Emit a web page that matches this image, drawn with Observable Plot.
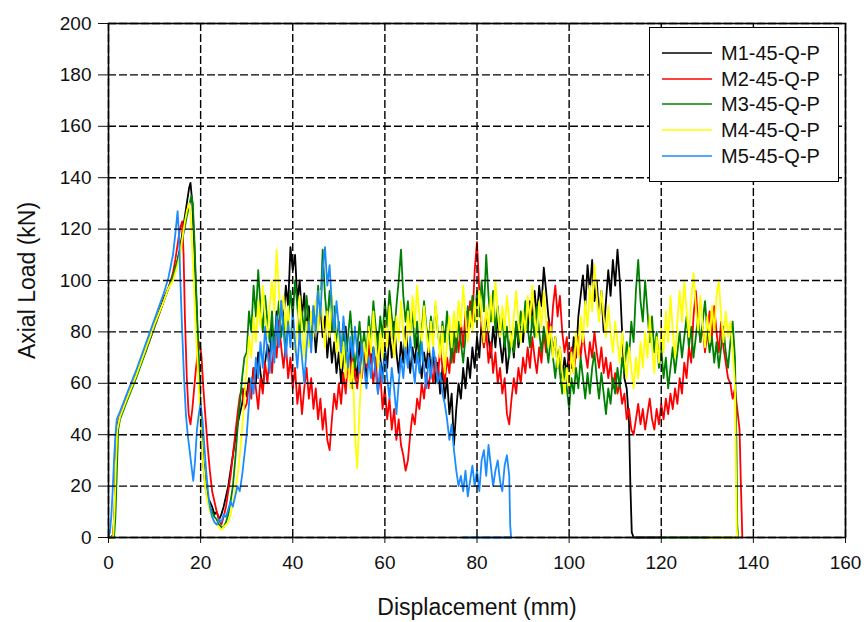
<!DOCTYPE html>
<html>
<head>
<meta charset="utf-8">
<script src="https://cdn.jsdelivr.net/npm/d3@7"></script>
<script src="https://cdn.jsdelivr.net/npm/@observablehq/plot@0.6"></script>
<style>
  html, body { margin: 0; padding: 0; background: #fff; overflow: hidden; }
  #wrap { position: relative; width: 864px; height: 622px; font-family: "Liberation Sans", Arial, sans-serif; }
  #legend { position: absolute; left: 649px; top: 27px; width: 188px; height: 153px; border: 1.5px solid #000; background: #fff; box-sizing: content-box; }
  .row { position: absolute; left: 0; height: 22px; width: 188px; }
  .row svg { position: absolute; left: 12px; top: 0; }
  .row span { position: absolute; left: 71px; top: 0; font-size: 20px; line-height: 22px; color: #111; }
</style>
</head>
<body>
<div id="wrap"><div id="legend"></div></div>
<script>
const xTicks = [0, 20, 40, 60, 80, 100, 120, 140, 160];
const yTicks = [0, 20, 40, 60, 80, 100, 120, 140, 160, 180, 200];
const seriesNames = ["M1-45-Q-P", "M2-45-Q-P", "M3-45-Q-P", "M4-45-Q-P", "M5-45-Q-P"];
const seriesColors = ["#000000", "#ff0000", "#008000", "#ffff00", "#1a8cff"];

// Body arrays: loads sampled every 0.5 mm starting at 30 mm
const bodyStart = 30, bodyStep = 0.5;

// ---- M1 ----
const m1Head = [[0,0],[0.5,0],[1,1],[1.3,10],[1.6,30],[1.9,44],[2.5,47],[4,54],[6,63],[8,73],[10,83],[12,93],[13,97],[14,101],[15,108],[15.5,112],[16,118],[16.5,124],[17,130],[17.5,136],[17.8,138],[18.2,130],[18.6,115],[19,95],[19.5,70],[20,48],[20.5,32],[21,22],[21.5,16],[22,14],[22.5,12],[23,9],[23.5,10],[24,7],[24.5,9],[25,12],[25.5,16],[26,20],[26.5,26],[27,32],[27.5,38],[28,44],[28.5,48],[29,52],[29.5,58]];
const m1Body = [55,62,58,66,60,72,64,58,68,75, 70,82,74,88,80,92,85,98,90,113, 104,110,92,100,86,95,80,90,76,85, 72,82,90,78,86,70,80,68,76,64, 72,60,70,82,66,74,58,68,62,76, 66,72,62,78,68,74,64,80,70,62, 74,66,80,70,84,72,64,76,68,82, 72,64,74,68,78,70,62,72,66,76, 64,72,60,68,56,66,54,62,48,56, 36,50,60,54,66,58,70,62,74,66, 78,70,84,74,88,78,70,82,74,86, 76,68,78,64,72,80,70,84,74,82, 76,88,80,92,84,96,86,98,90,105, 96,86,80,72,78,66,74,62,70,64, 72,66,78,70,86,94,102,90,106,96, 108,92,100,86,96,80,92,104,94,108, 98,112,100,80,62];
const m1Tail = [[112.5,58],[113,45],[113.3,20],[113.6,2],[114,0],[120,0]];

// ---- M2 ----
const m2Head = [[0,0],[1,0],[1.4,10],[1.7,30],[2,44],[2.5,47],[4,54],[6,63],[8,72],[10,82],[12,92],[13,97],[14,103],[14.5,108],[15,114],[15.5,120],[16,123],[16.3,110],[16.6,85],[17,62],[17.4,48],[17.8,44],[18.2,50],[18.6,58],[19,66],[19.4,72],[19.8,76],[20.2,70],[20.6,58],[21,48],[21.5,36],[22,26],[22.5,18],[23,14],[23.5,10],[24,7],[24.5,5],[25,8],[25.5,12],[26,18],[26.5,24],[27,32],[27.5,40],[28,48],[28.5,55],[29,58],[29.5,50]];
const m2Body = [52,60,54,66,58,50,62,56,68,60, 72,64,78,70,84,74,66,76,62,70, 58,66,52,60,48,58,66,54,62,50, 58,46,54,42,50,38,34,46,56,50, 60,52,64,56,70,60,74,64,58,68, 62,74,66,78,68,60,70,56,64,50, 58,46,54,42,50,38,46,36,32,26, 30,40,48,44,54,50,60,54,64,58, 66,60,70,62,74,66,60,70,64,76, 68,80,72,84,74,88,78,92,84,104, 115,96,84,74,80,68,76,64,72,60, 66,56,62,48,44,54,62,56,66,60, 70,64,74,66,78,70,64,74,68,80, 72,84,76,90,98,86,94,80,72,78, 66,74,64,72,78,70,80,72,66,76, 70,80,72,66,74,64,70,62,68,58, 64,56,60,52,56,46,50,42,40,46, 52,44,50,42,48,54,46,42,50,44, 52,46,54,48,56,50,58,52,62,56, 68,62,74,68,86,96,84,76,82,72, 80,88,78,90,80,72,84,74,68,62, 60,54,58,50,42];
const m2Tail = [[137.3,20],[137.6,0]];

// ---- M3 ----
const m3Head = [[0,0],[1.2,0],[1.5,8],[1.8,25],[2.1,42],[2.5,46],[4,53],[6,62],[8,72],[10,82],[12,92],[13,97],[14,102],[15,108],[15.5,112],[16,116],[16.5,120],[17,125],[17.5,129],[18,133],[18.3,130],[18.6,118],[19,98],[19.5,74],[20,50],[20.5,30],[21,20],[21.5,15],[22,12],[22.5,10],[23,8],[23.5,7],[24,5],[24.5,4],[25,4],[25.5,6],[26,9],[26.5,14],[27,20],[27.5,30],[28,42],[28.5,52],[29,62],[29.5,70]];
const m3Body = [72,88,80,98,86,104,90,80,94,84, 76,88,70,82,92,78,86,72,84,96, 86,100,90,78,88,80,94,84,76,90, 82,98,88,112,94,84,96,80,90,74, 84,70,80,68,78,88,76,66,74,84, 72,80,70,86,76,92,82,74,86,78, 92,82,96,86,78,90,100,112,94,84, 92,80,88,74,84,70,80,92,82,76, 86,78,90,80,72,84,76,88,78,68, 80,72,84,76,68,78,90,82,94,84, 96,86,100,88,110,94,84,96,80,90, 78,86,74,82,70,80,72,84,76,88, 80,92,82,74,86,78,90,80,72,82, 76,68,78,70,62,72,64,56,66,58, 50,62,56,66,58,70,62,54,64,56, 66,72,62,54,64,56,48,58,52,62, 56,66,58,70,64,76,70,84,76,96, 108,92,84,100,88,76,86,72,80,66, 74,62,70,58,66,74,64,72,80,70, 78,86,74,82,70,78,86,76,84,92, 80,72,78,68,76,66,74,82,72,66, 76,84,70];
const m3Tail = [[136.3,40],[136.5,5],[136.7,0],[120,0]];

// ---- M4 ----
const m4Head = [[0,0],[1,0],[1.3,10],[1.6,28],[1.9,42],[2.5,47],[4,54],[6,63],[8,73],[10,83],[12,92],[13,97],[14,100],[15,106],[15.5,110],[16,116],[16.5,122],[17,127],[17.5,130],[17.8,126],[18.2,112],[18.6,96],[19,80],[19.5,62],[20,44],[20.5,30],[21,20],[21.5,14],[22,10],[22.5,8],[23,6],[23.5,5],[24,4],[24.5,3],[25,4],[25.5,5],[26,6],[26.5,9],[27,13],[27.5,18],[28,24],[28.5,32],[29,42],[29.5,54]];
const m4Body = [66,78,70,86,76,92,82,98,86,78, 90,100,88,112,96,84,94,80,90,76, 86,72,82,94,80,70,84,74,88,78, 92,80,96,84,74,88,78,94,82,72, 80,66,76,62,72,58,68,40,27,50, 66,76,68,82,72,88,76,66,80,70, 84,74,90,78,70,86,76,92,80,72, 88,78,94,82,98,86,76,90,80,72, 84,74,92,80,70,82,64,76,86,74, 88,78,92,82,98,86,76,88,80,92, 82,96,86,76,90,80,94,84,100,88, 78,90,80,94,84,74,86,96,84,76, 88,80,94,84,98,86,78,92,82,96, 84,74,82,70,78,66,74,64,56,66, 58,72,64,80,70,86,76,92,82,98, 88,106,94,84,96,86,78,90,80,72, 84,76,68,80,70,62,74,66,58,70, 62,76,66,80,70,86,74,64,78,68, 82,72,88,76,94,80,70,84,96,84, 100,88,78,92,103,90,80,94,82,74, 86,76,90,80,94,100,86,76,88,78, 84,72,60];
const m4Tail = [[136.2,30],[136.4,3],[136.6,0],[130,0]];

// ---- M5 ----
const m5Head = [[0,0],[0.3,2],[0.6,8],[0.9,18],[1.2,30],[1.5,40],[1.8,46],[2.5,49],[4,56],[6,65],[8,75],[10,85],[12,95],[13,101],[14,110],[14.5,118],[15,127],[15.3,118],[15.6,100],[16,80],[16.4,62],[16.8,48],[17.2,40],[17.6,34],[18,28],[18.4,22],[18.8,30],[19.2,42],[19.6,48],[20,52],[20.4,46],[20.8,36],[21.2,26],[21.6,18],[22,12],[22.5,8],[23,6],[23.5,5],[24,7],[24.5,6],[25,9],[25.5,8],[26,11],[26.5,14],[27,12],[27.5,16],[28,20],[28.5,18],[29,24],[29.5,32]];
const m5Body = [40,52,62,56,70,62,76,66,82,72, 64,78,68,86,74,92,80,70,84,74, 88,76,66,80,70,60,74,84,72,90, 80,96,86,104,113,98,106,90,80,92, 82,72,86,76,66,78,70,82,72,64, 76,66,58,70,62,74,64,56,68,60, 72,62,54,66,58,48,60,70,62,74, 66,78,68,60,72,64,76,66,58,70, 62,74,68,60,64,56,52,46,38,44, 34,26,20];
const m5Tail = [[76.5,24],[77,18],[77.5,26],[78,16],[78.5,22],[79,28],[79.5,20],[80,26],[80.5,18],[81,30],[81.5,34],[82,24],[82.5,36],[83,28],[83.5,20],[84,26],[84.5,30],[85,22],[85.5,18],[86,28],[86.5,32],[87,24],[87.2,5],[87.4,0],[77,0]];

function build(head, body, tail) {
  const pts = head.map(([x, y]) => ({x, y}));
  body.forEach((y, i) => pts.push({x: bodyStart + i * bodyStep, y}));
  tail.forEach(([x, y]) => pts.push({x, y}));
  return pts;
}
const series = [
  build(m1Head, m1Body, m1Tail),
  build(m2Head, m2Body, m2Tail),
  build(m3Head, m3Body, m3Tail),
  build(m4Head, m4Body, m4Tail),
  build(m5Head, m5Body, m5Tail)
];

const chart = Plot.plot({
  width: 864, height: 622,
  marginLeft: 108, marginRight: 19, marginTop: 23, marginBottom: 85,
  x: {domain: [0, 160]},
  y: {domain: [0, 200]},
  style: {fontFamily: "'Liberation Sans', Arial, sans-serif", background: "white", color: "#111", overflow: "visible"},
  marks: [
    ...series.map((d, i) => Plot.line(d, {x: "x", y: "y", stroke: seriesColors[i], strokeWidth: 1.8, curve: "linear"})),
    Plot.gridX(xTicks, {stroke: "#000", strokeOpacity: 1, strokeWidth: 1.4, strokeDasharray: "8,3"}),
    Plot.gridY(yTicks, {stroke: "#000", strokeOpacity: 1, strokeWidth: 1.4, strokeDasharray: "8,3"}),
    Plot.frame({stroke: "#000", strokeWidth: 1.6}),
    Plot.axisX(xTicks, {tickSize: 6, tickPadding: 12, fontSize: 19, label: null}),
    Plot.axisY(yTicks, {tickSize: 10, tickPadding: 7, fontSize: 19, label: null}),
    Plot.text(["Axial Load (kN)"], {text: d => d, frameAnchor: "left", textAnchor: "middle", lineAnchor: "middle", dx: -81, rotate: -90, fontSize: 23}),
    Plot.text(["Displacement (mm)"], {text: d => d, frameAnchor: "bottom", textAnchor: "middle", lineAnchor: "middle", dy: 70, fontSize: 23})
  ]
});
document.getElementById("wrap").prepend(chart);

const legend = document.getElementById("legend");
seriesNames.forEach((name, i) => {
  const row = document.createElement("div");
  row.className = "row";
  row.style.top = (14 + i * 25.7) + "px";
  row.innerHTML = `<svg width="50" height="22"><line x1="0" y1="11" x2="50" y2="11" stroke="${seriesColors[i]}" stroke-width="1.6"/></svg><span>${name}</span>`;
  legend.appendChild(row);
});
</script>
</body>
</html>
